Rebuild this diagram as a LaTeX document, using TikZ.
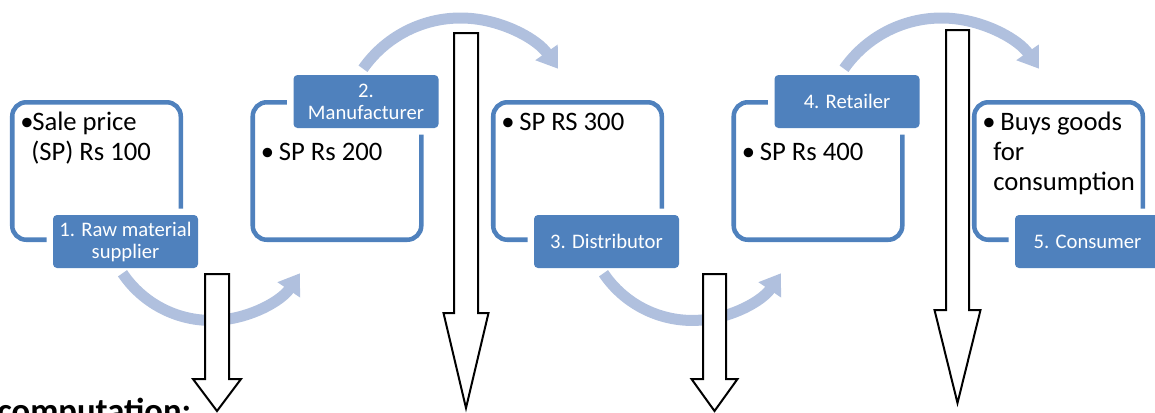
\documentclass[tikz,border=0pt]{standalone}
\usepackage{fontspec}
\setmainfont{Carlito}
\usetikzlibrary{arrows.meta,calc}

\definecolor{stageblue}{RGB}{79,129,189}
\definecolor{flowblue}{RGB}{176,192,222}

\tikzset{
  stagebox/.style={draw=stageblue, line width=3.4pt, rounded corners=10.5pt,
    minimum width=126.4pt, minimum height=103.1pt, inner sep=0pt},
  stagelabel/.style={fill=stageblue, rounded corners=3pt, text=white,
    minimum width=108.75pt, minimum height=39.75pt, inner sep=0pt, align=center,
    font=\fontsize{15.5}{16.5}\selectfont,
    preaction={draw=white, line width=9.75pt}},
  flow/.style={draw=flowblue, line width=8.25pt, -{Triangle[width=19.5pt,length=15pt]}},
  bullettext/.style={anchor=base west, inner sep=0pt, font=\fontsize{20}{22.5}\selectfont},
  taxarrow/.style={draw=black, fill=white, line width=1.5pt, line join=miter},
}

% block arrow: centre x, top, head start, tip, half shaft, half head
\newcommand{\taxdown}[6]{%
  \draw[taxarrow] (#1-#5,#2) -- (#1+#5,#2) -- (#1+#5,#3) -- (#1+#6,#3) -- (#1,#4)
    -- (#1-#6,#3) -- (#1-#5,#3) -- cycle;}
\newcommand{\bul}{\hangindent=8.25pt\hangafter=1\noindent\makebox[9pt][l]{\textbullet}}

\begin{document}
\begin{tikzpicture}[x=0.75pt,y=0.75pt,yscale=-1,xscale=1]
\useasboundingbox (0,0) rectangle (1155,412);
\clip (0,0) rectangle (1155,412);

% stage boxes
\node[stagebox] (box1) at (96.5,171) {};
\node[stagebox] (box2) at (337,171) {};
\node[stagebox] (box3) at (577.5,171) {};
\node[stagebox] (box4) at (818,171) {};
\node[stagebox] (box5) at (1058.5,171) {};

% stage labels
\node[stagelabel] (lab1) at (125.5,241.5) {1. Raw material\\supplier};
\node[stagelabel] (lab2) at (366,101.5) {2.\\Manufacturer};
\node[stagelabel] (lab3) at (606.5,241.5) {3. Distributor};
\node[stagelabel] (lab4) at (847,101.5) {4. Retailer};
\node[stagelabel] (lab5) at (1087.5,241.5) {5. Consumer};

% flow arrows
\draw[flow] ($(lab1.south)+(-3,5)$) arc[start angle=146, end angle=34, radius=107];
\draw[flow] ($(lab2.north)+(-3,-6)$) arc[start angle=215, end angle=325, radius=119];
\draw[flow] ($(lab3.south)+(-3,5)$) arc[start angle=146, end angle=34, radius=107];
\draw[flow] ($(lab4.north)+(-3,-6)$) arc[start angle=215, end angle=325, radius=119];

% tax arrows
\taxdown{217}{274}{379}{411}{12}{24}
\taxdown{466}{33}{313}{408}{12}{22.5}
\taxdown{714.5}{274}{379}{411}{11.5}{23}
\taxdown{957.5}{30}{310}{403}{11.5}{23}

% box texts
\node[bullettext] (txt1) at (20,130) {\parbox[t]{150pt}{\bul Sale price\\(SP) Rs 100}};
\node[bullettext] (txt2) at (260.5,160) {\parbox[t]{150pt}{\bul\ SP Rs 200}};
\node[bullettext] (txt3) at (501,130) {\parbox[t]{150pt}{\bul\ SP RS 300}};
\node[bullettext] (txt4) at (741.5,160) {\parbox[t]{150pt}{\bul\ SP Rs 400}};
\node[bullettext] (txt5) at (982,130) {\parbox[t]{150pt}{\bul\ Buys goods\\for\\consumption}};

\node[anchor=base west, inner sep=0pt, font=\bfseries\fontsize{26}{30}\selectfont] (taxhead) at (-3,422) {computation:};

\end{tikzpicture}
\end{document}
